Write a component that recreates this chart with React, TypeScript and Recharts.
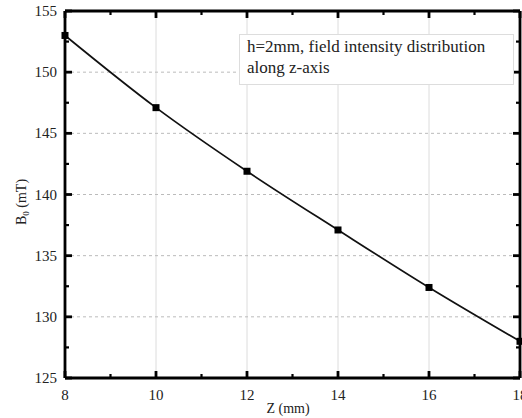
import { CartesianGrid, Line, LineChart, ReferenceLine, XAxis, YAxis } from "recharts";

const zValues = [8, 10, 12, 14, 16, 18];
const bValues = [153.0, 147.1, 141.9, 137.1, 132.4, 128.0];

const xMajor = [8, 10, 12, 14, 16, 18];
const xMinor = [9, 11, 13, 15, 17];
const yMajor = [125, 130, 135, 140, 145, 150, 155];
const yMinor = [127.5, 132.5, 137.5, 142.5, 147.5, 152.5];
const xGrid = [10, 12, 14, 16];
const yGrid = [130, 135, 140, 145, 150];

const data = zValues.map((z, i) => ({ z, b: bValues[i] }));
const xTicks = [...xMajor, ...xMinor].sort((a, b) => a - b);
const yTicks = [...yMajor, ...yMinor].sort((a, b) => a - b);

const FONT = "Liberation Serif";
const MARGIN = { top: 11, right: 2, left: 0, bottom: 0 };
const W = 522;
const H = 418;
const PLOT_TOP = MARGIN.top;
const PLOT_RIGHT = W - MARGIN.right;
const FRAME = 2.8;

// inward ticks, major + minor, mirrored on the top / right frame
const BottomTick = (p: any) => {
  const major = xMajor.includes(p.payload.value);
  const len = major ? 7 : 4;
  const sw = major ? 2.8 : 2.2;
  return (
    <g>
      <path d={`M${p.x},${p.y}V${p.y - len}`} stroke="#000" strokeWidth={sw} fill="none" />
      <path d={`M${p.x},${PLOT_TOP}V${PLOT_TOP + len}`} stroke="#000" strokeWidth={sw} fill="none" />
      {major && (
        <text x={p.x} y={p.y + 22} textAnchor="middle" fontFamily={FONT} fontSize={15} fill="#222">
          {p.payload.value}
        </text>
      )}
    </g>
  );
};

const LeftTick = (p: any) => {
  const major = yMajor.includes(p.payload.value);
  const len = major ? 7 : 4;
  const sw = major ? 2.8 : 2.2;
  const ax = p.x + 8;
  return (
    <g>
      <path d={`M${ax},${p.y}H${ax + len}`} stroke="#000" strokeWidth={sw} fill="none" />
      <path d={`M${PLOT_RIGHT},${p.y}H${PLOT_RIGHT - len}`} stroke="#000" strokeWidth={sw} fill="none" />
      {major && (
        <text x={p.x} y={p.y} dy={5} textAnchor="end" fontFamily={FONT} fontSize={15} fill="#222">
          {p.payload.value}
        </text>
      )}
    </g>
  );
};

const SquareDot = (p: any) => (
  <rect key={`d${p.index}`} x={p.cx - 3.5} y={p.cy - 3.5} width={7} height={7} fill="#000" />
);

export default function App() {
  return (
    <div style={{ position: "absolute", left: 0, top: 0, width: W, height: H, background: "#fff" }}>
      <LineChart width={W} height={H} data={data} margin={MARGIN}>
        <CartesianGrid horizontal={false} verticalValues={xGrid} stroke="#dcdcdc" strokeWidth={1} />
        <CartesianGrid vertical={false} horizontalValues={yGrid} stroke="#bbb" strokeDasharray="3 3" strokeWidth={1} />
        <ReferenceLine y={155} stroke="#000" strokeWidth={FRAME} />
        <ReferenceLine x={18} stroke="#000" strokeWidth={FRAME} />
        <XAxis
          dataKey="z"
          type="number"
          domain={[8, 18]}
          ticks={xTicks}
          interval={0}
          height={40}
          tickSize={0}
          tickMargin={0}
          tickLine={false}
          axisLine={{ stroke: "#000", strokeWidth: FRAME }}
          tick={BottomTick}
        />
        <YAxis
          type="number"
          domain={[125, 155]}
          ticks={yTicks}
          interval={0}
          width={65}
          tickSize={0}
          tickMargin={8}
          tickLine={false}
          axisLine={{ stroke: "#000", strokeWidth: FRAME }}
          tick={LeftTick}
        />
        <Line
          dataKey="b"
          type="monotone"
          stroke="#111"
          strokeWidth={1.7}
          dot={SquareDot}
          activeDot={false}
          isAnimationActive={false}
        />
      </LineChart>
      <svg width={W} height={H} style={{ position: "absolute", left: 0, top: 0, pointerEvents: "none" }}>
        <text x={288} y={413} textAnchor="middle" fontFamily={FONT} fontSize={14} fill="#222">
          Z (mm)
        </text>
        <text transform="translate(26 202) rotate(-90)" textAnchor="middle" fontFamily={FONT} fontSize={14} fill="#222">
          B<tspan fontSize={9} dy={3}>0</tspan>
          <tspan dy={-3}> (mT)</tspan>
        </text>
      </svg>
      <div
        style={{
          position: "absolute",
          left: 239,
          top: 34,
          width: 259,
          height: 47,
          padding: "1px 7px",
          border: "1px solid #ddd",
          background: "#fff",
          fontFamily: FONT,
          fontSize: 17,
          lineHeight: "21px",
          color: "#222",
          boxSizing: "content-box",
        }}
      >
        h=2mm, field intensity distribution
        <br />
        along z-axis
      </div>
    </div>
  );
}
